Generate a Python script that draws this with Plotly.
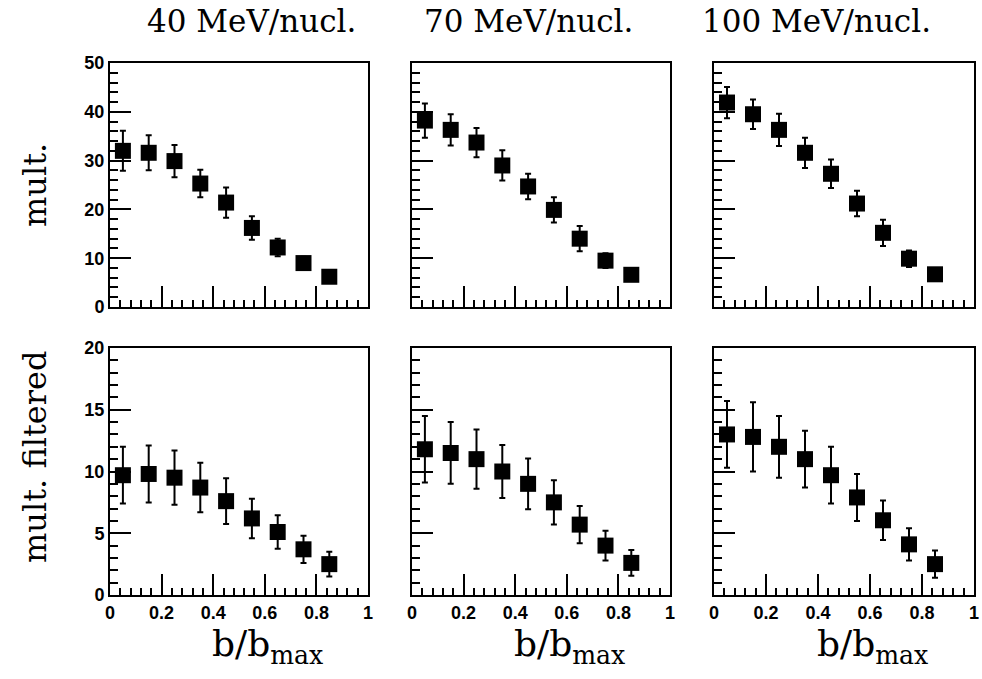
import plotly.graph_objects as go

# ---- data ----
b_ratio = [0.05, 0.15, 0.25, 0.35, 0.45, 0.55, 0.65, 0.75, 0.85]
energies = ["40 MeV/nucl.", "70 MeV/nucl.", "100 MeV/nucl."]

mult_40 = [32.0, 31.6, 29.9, 25.3, 21.4, 16.2, 12.2, 9.0, 6.2]
mult_40_err = [4.1, 3.6, 3.3, 2.8, 3.1, 2.4, 1.8, 1.3, 0.5]
mult_70 = [38.2, 36.3, 33.7, 29.0, 24.7, 19.9, 14.0, 9.5, 6.6]
mult_70_err = [3.5, 3.2, 3.0, 3.1, 2.6, 2.6, 2.6, 1.5, 0.5]
mult_100 = [41.9, 39.5, 36.3, 31.6, 27.3, 21.2, 15.2, 9.9, 6.7]
mult_100_err = [3.2, 3.0, 3.3, 3.1, 2.9, 2.6, 2.7, 1.7, 0.5]

filt_40 = [9.7, 9.8, 9.5, 8.7, 7.6, 6.2, 5.1, 3.7, 2.5]
filt_40_err = [2.3, 2.3, 2.2, 2.0, 1.85, 1.6, 1.35, 1.1, 1.0]
filt_70 = [11.8, 11.5, 11.0, 10.0, 9.0, 7.5, 5.7, 4.0, 2.6]
filt_70_err = [2.7, 2.5, 2.4, 2.15, 2.05, 1.8, 1.5, 1.2, 1.05]
filt_100 = [13.0, 12.8, 12.0, 11.0, 9.7, 7.9, 6.05, 4.1, 2.5]
filt_100_err = [2.7, 2.8, 2.5, 2.3, 2.3, 1.9, 1.6, 1.3, 1.1]

x_ticks = [0, 0.2, 0.4, 0.6, 0.8, 1]
x_ticklabels = ["0", "0.2", "0.4", "0.6", "0.8", "1"]

top_series = [(mult_40, mult_40_err), (mult_70, mult_70_err), (mult_100, mult_100_err)]
bot_series = [(filt_40, filt_40_err), (filt_70, filt_70_err), (filt_100, filt_100_err)]

# ---- layout geometry ----
W, H = 982, 679
col_dom = [[110 / W, 368 / W], [412 / W, 670 / W], [714 / W, 974 / W]]
row_dom = [[1 - 307 / H, 1 - 63 / H], [1 - 595 / H, 1 - 348 / H]]

fig = go.Figure()
tickfont = dict(family="Liberation Sans, Arial, sans-serif", size=18, color="black", weight="bold")

layout = {}
idx = 0
for r, (series, ymax, ydt, ymin_dt) in enumerate([(top_series, 50, 10, 2), (bot_series, 20, 5, 1)]):
    for c in range(3):
        idx += 1
        sfx = "" if idx == 1 else str(idx)
        vals, errs = series[c]
        fig.add_trace(go.Scatter(
            x=b_ratio, y=vals, mode="markers",
            marker=dict(symbol="square", size=16, color="black"),
            error_y=dict(type="data", array=errs, visible=True, color="black", thickness=2, width=3),
            xaxis="x" + sfx, yaxis="y" + sfx, showlegend=False,
        ))
        layout["xaxis" + sfx] = dict(
            domain=col_dom[c], range=[0, 1], anchor="y" + sfx,
            showline=True, linecolor="black", linewidth=2, mirror=True,
            ticks="inside", ticklen=21, tickwidth=2, tickcolor="black",
            tickvals=x_ticks, ticktext=x_ticklabels,
            showticklabels=(r == 1), tickfont=tickfont,
            minor=dict(ticks="inside", ticklen=7, tickwidth=1.5, tickcolor="black", dtick=0.04, tick0=0),
            showgrid=False, zeroline=False, automargin=False,
        )
        layout["yaxis" + sfx] = dict(
            domain=row_dom[r], range=[0, ymax], anchor="x" + sfx,
            showline=True, linecolor="black", linewidth=2, mirror=True,
            ticks="inside", ticklen=21, tickwidth=2, tickcolor="black",
            tick0=0, dtick=ydt,
            showticklabels=(c == 0), tickfont=tickfont,
            minor=dict(ticks="inside", ticklen=8, tickwidth=1.5, tickcolor="black", dtick=ymin_dt, tick0=0),
            showgrid=False, zeroline=False, automargin=False,
        )

serif = "DejaVu Serif, serif"
annotations = []
title_x = [251, 528, 816]
for c in range(3):
    annotations.append(dict(text=energies[c], x=title_x[c] / W, y=1 - 21 / H, xref="paper", yref="paper",
                            showarrow=False, font=dict(family=serif, size=31, color="black"),
                            xanchor="center", yanchor="middle"))
    annotations.append(dict(text="b/b<sub>max</sub>", x=(sum(col_dom[c]) / 2 * W + 28) / W, y=1 - 646 / H,
                            xref="paper", yref="paper", showarrow=False,
                            font=dict(family=serif, size=36, color="black"),
                            xanchor="center", yanchor="middle"))
annotations.append(dict(text="mult.", x=35 / W, y=1 - 185 / H, xref="paper", yref="paper", showarrow=False,
                        textangle=-90, font=dict(family=serif, size=32, color="black"),
                        xanchor="center", yanchor="middle"))
annotations.append(dict(text="mult. filtered", x=35 / W, y=1 - 457 / H, xref="paper", yref="paper",
                        showarrow=False, textangle=-90, font=dict(family=serif, size=32, color="black"),
                        xanchor="center", yanchor="middle"))

fig.update_layout(
    width=W, height=H, margin=dict(l=0, r=0, t=0, b=0),
    paper_bgcolor="white", plot_bgcolor="white",
    annotations=annotations, showlegend=False, **layout,
)

fig.write_html("out.html", config={"displayModeBar": False},
               post_script="document.body.style.margin='0px';")
